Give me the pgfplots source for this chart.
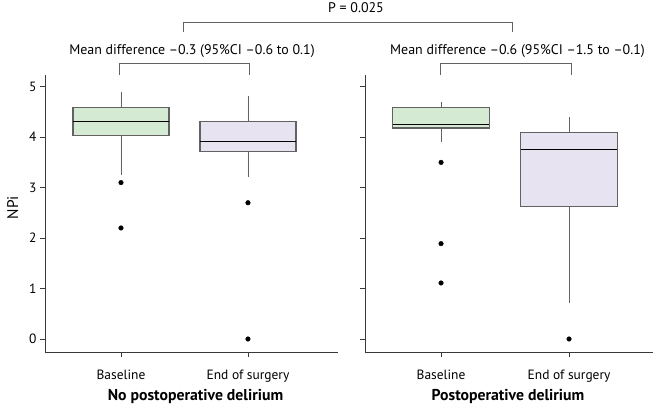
\documentclass[border=0pt]{standalone}
\usepackage{pgfplots}
\pgfplotsset{compat=1.18}
\usepgfplotslibrary{statistics}
\usepackage{fontspec}
\setmainfont{PT Sans}
\definecolor{boxgreen}{HTML}{D5EAD3}
\definecolor{boxlav}{HTML}{E7E3F1}
\definecolor{boxedge}{HTML}{626262}
\definecolor{axcol}{HTML}{3A3A3A}
\begin{document}
\begin{tikzpicture}[x=1bp,y=1bp]
\useasboundingbox (0,0) rectangle (660,407);
\pgfplotsset{
  panel/.style={
    scale only axis,
    anchor=south west,
    height=277bp,
    ymin=-0.258, ymax=5.232,
    axis x line=bottom, axis y line=left,
    axis line style={-, draw=axcol, line width=0.9bp},
    major tick style={draw=axcol, line width=0.9bp},
    tick align=outside,
    major tick length=5bp,
    xtick={1,2},
    xticklabels={Baseline, End of surgery},
    ytick={0,1,2,3,4,5},
    /pgf/number format/assume math mode=true,
    ticklabel style={font=\fontsize{13.5}{15}\selectfont, text=black},
    xticklabel style={yshift=-9bp},
    clip=false,
    boxplot/draw direction=y,
    boxplot/box extend=0.755,
    boxplot/whisker extend=0,
    boxplot/every box/.style={draw=boxedge, line width=1.2bp},
    boxplot/every median/.style={draw=black, line width=1.0bp},
    boxplot/every whisker/.style={draw=boxedge, line width=0.9bp},
  },
  bp/.style={mark=*, mark size=2.3bp, mark options={draw=black, fill=black, solid}},
}
% Left panel
\begin{axis}[panel, at={(45bp,55bp)}, width=293bp,
  xmin=0.4016, xmax=2.709,
  ylabel={\fontsize{15.5}{17}\selectfont NPi}, ylabel style={yshift=4bp, xshift=6bp}]
\addplot[bp, fill=boxgreen, boxplot prepared={draw position=1,
  lower whisker=3.25, lower quartile=4.03, median=4.32,
  upper quartile=4.59, upper whisker=4.90}]
  coordinates {(1,3.10) (1,2.20)};
\addplot[bp, fill=boxlav, boxplot prepared={draw position=2,
  lower whisker=3.21, lower quartile=3.71, median=3.91,
  upper quartile=4.31, upper whisker=4.81}]
  coordinates {(2,2.70) (2,0.00)};
\end{axis}
% Right panel
\begin{axis}[panel, at={(365bp,55bp)}, width=288bp,
  xmin=0.406, xmax=2.656, yticklabels={}]
\addplot[bp, fill=boxgreen, boxplot prepared={draw position=1,
  lower whisker=3.91, lower quartile=4.18, median=4.26,
  upper quartile=4.59, upper whisker=4.70}]
  coordinates {(1,3.50) (1,1.89) (1,1.11)};
\addplot[bp, fill=boxlav, boxplot prepared={draw position=2,
  lower whisker=0.71, lower quartile=2.63, median=3.76,
  upper quartile=4.10, upper whisker=4.39}]
  coordinates {(2,0.00)};
\end{axis}
% brackets and annotations
\begin{scope}[draw=boxedge, line width=0.9bp]
\draw (183,375) -- (183,385) -- (512,385) -- (512,375);
\draw (119.5,332) -- (119.5,344) -- (249,344) -- (249,332);
\draw (440,332) -- (440,344) -- (571,344) -- (571,332);
\end{scope}
\node[font=\fontsize{14}{16}\selectfont] at (356,399) {P = 0.025};
\node[font=\fontsize{14}{16}\selectfont] at (192,356) {Mean difference –0.3 (95\%CI –0.6 to 0.1)};
\node[font=\fontsize{14}{16}\selectfont] at (517.5,356) {Mean difference –0.6 (95\%CI –1.5 to –0.1)};
\node[font=\bfseries\fontsize{15.8}{17}\selectfont] at (195.5,11) {No postoperative delirium};
\node[font=\bfseries\fontsize{15.8}{17}\selectfont] at (508,11) {Postoperative delirium};
\end{tikzpicture}
\end{document}
